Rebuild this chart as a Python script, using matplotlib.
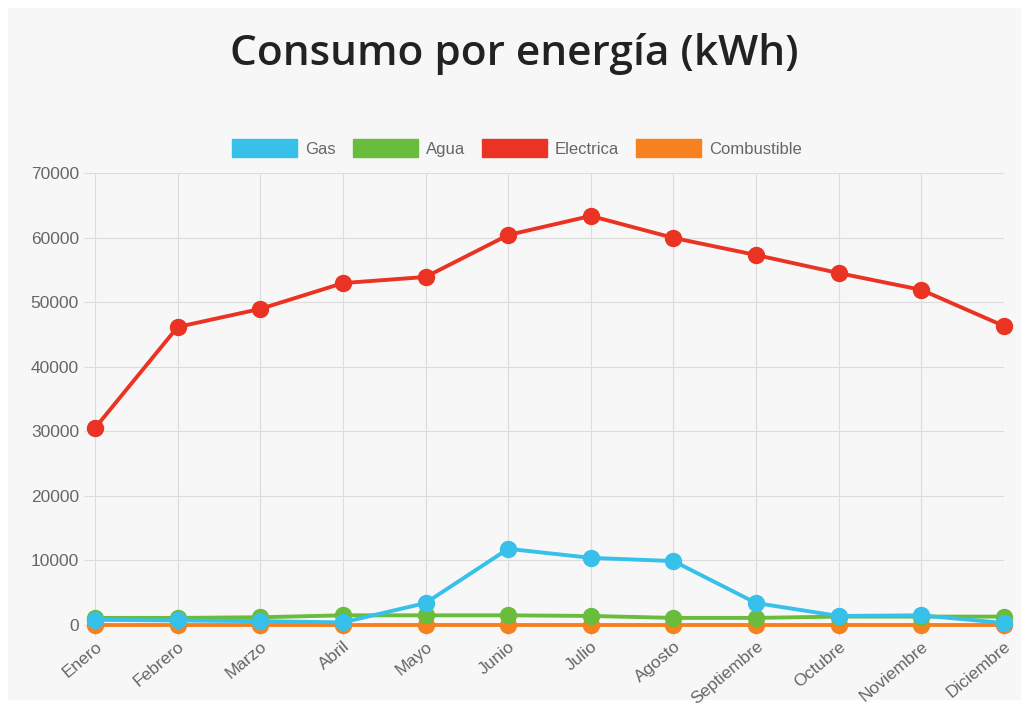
import matplotlib
matplotlib.use("Agg")
import matplotlib.pyplot as plt
from matplotlib.patches import Patch, Rectangle

meses = ["Enero", "Febrero", "Marzo", "Abril", "Mayo", "Junio", "Julio",
         "Agosto", "Septiembre", "Octubre", "Noviembre", "Diciembre"]
gas = [800, 700, 600, 400, 3400, 11800, 10400, 9900, 3400, 1400, 1500, 300]
agua = [1100, 1100, 1200, 1500, 1500, 1500, 1400, 1100, 1100, 1300, 1300, 1300]
electrica = [30500, 46150, 48950, 52950, 53900, 60400, 63350, 59950, 57300, 54500, 51900, 46300]
combustible = [50, 50, 50, 50, 50, 50, 50, 50, 50, 50, 50, 50]

series = [
    ("Gas", gas, "#36c0ea"),
    ("Agua", agua, "#6abd3c"),
    ("Electrica", electrica, "#ea3323"),
    ("Combustible", combustible, "#f5821f"),
]

fig = plt.figure(figsize=(10.29, 7.06), dpi=100, facecolor="white")
fig.patches.append(Rectangle((8 / 1029, 6 / 706), 1013 / 1029, 692 / 706,
                             transform=fig.transFigure, facecolor="#f7f7f7",
                             edgecolor="none", zorder=-10))
ax = fig.add_axes([95 / 1029, 1 - 625 / 706, 909 / 1029, 452 / 706])
ax.set_facecolor("none")

x = list(range(len(meses)))
n = len(series)
for i, (name, vals, col) in enumerate(series):
    ax.plot(x, vals, color=col, lw=2.8, marker="o", ms=11.5, mec=col,
            zorder=10 + n - i, clip_on=False)

ax.set_xlim(0, len(meses) - 1)
ax.set_ylim(0, 70000)
ax.set_yticks(range(0, 70001, 10000))
ax.set_xticks(x)
ax.set_xticklabels(meses, rotation=40, ha="right", rotation_mode="anchor")
ax.grid(True, color="#dcdcdc", lw=0.8)
for s in ax.spines.values():
    s.set_visible(False)
ax.tick_params(axis="both", colors="#dcdcdc", labelcolor="#666666",
               labelsize=12.5, length=8, width=0.8)
for lab in ax.get_xticklabels() + ax.get_yticklabels():
    lab.set_fontfamily("Liberation Sans")
ax.tick_params(axis="x", pad=2)

fig.text(0.5, 1 - 54 / 706, "Consumo por energía (kWh)", ha="center", va="center",
         fontsize=30.5, fontweight="semibold", color="#222222", fontfamily="Open Sans")

handles = [Patch(facecolor=c, edgecolor=c, label=nm) for nm, _, c in series]
leg = fig.legend(handles=handles, loc="center", bbox_to_anchor=(517 / 1029, 1 - 148 / 706),
                 ncol=4, frameon=False, handlelength=3.9, handleheight=1.2,
                 handletextpad=0.5, columnspacing=1.0,
                 prop={"family": "Liberation Sans", "size": 12})
for t in leg.get_texts():
    t.set_color("#666666")

fig.savefig("out.png", dpi=100, facecolor=fig.get_facecolor())
